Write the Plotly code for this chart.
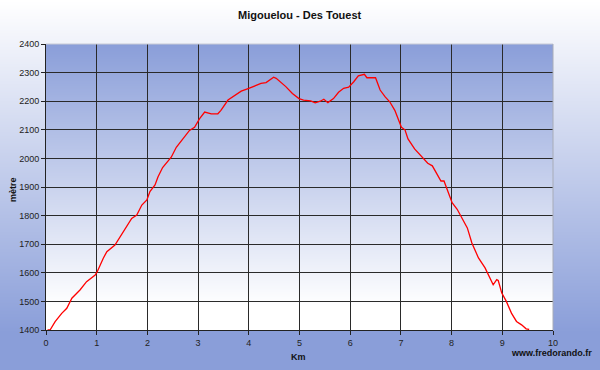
import base64, struct, zlib
import plotly.graph_objects as go

# ---------------- data ----------------
km = [0.03, 0.08, 0.18, 0.31, 0.41, 0.51, 0.67, 0.80, 0.97, 1.01, 1.13, 1.20, 1.36, 1.46,
      1.59, 1.69, 1.79, 1.89, 1.99, 2.05, 2.15, 2.21, 2.30, 2.47, 2.57, 2.70, 2.83, 2.93,
      3.03, 3.13, 3.26, 3.39, 3.45, 3.59, 3.72, 3.85, 4.00, 4.14, 4.24, 4.34, 4.44, 4.49,
      4.54, 4.64, 4.73, 4.86, 4.99, 5.08, 5.22, 5.31, 5.41, 5.48, 5.56, 5.67, 5.77, 5.87,
      5.97, 6.07, 6.16, 6.28, 6.33, 6.50, 6.59, 6.69, 6.78, 6.88, 6.95, 7.01, 7.08, 7.14,
      7.27, 7.46, 7.53, 7.62, 7.72, 7.79, 7.85, 7.92, 8.01, 8.11, 8.21, 8.31, 8.40, 8.53,
      8.66, 8.76, 8.82, 8.89, 8.92, 8.99, 9.08, 9.18, 9.28, 9.38, 9.47, 9.53]
metre = [1400, 1400, 1429, 1458, 1476, 1511, 1540, 1569, 1592, 1604, 1651, 1674, 1697, 1726,
         1761, 1790, 1802, 1837, 1855, 1884, 1907, 1936, 1968, 2004, 2039, 2068, 2098, 2109,
         2139, 2162, 2156, 2156, 2168, 2204, 2219, 2235, 2245, 2256, 2262, 2265, 2278, 2284,
         2280, 2266, 2251, 2227, 2209, 2204, 2201, 2194, 2200, 2207, 2195, 2209, 2231, 2245,
         2249, 2268, 2289, 2294, 2282, 2282, 2239, 2215, 2198, 2168, 2139, 2109, 2100, 2068,
         2033, 1997, 1983, 1974, 1944, 1921, 1921, 1886, 1845, 1822, 1792, 1757, 1704, 1652,
         1617, 1581, 1558, 1576, 1573, 1529, 1500, 1459, 1430, 1418, 1404, 1402]
x_ticks = [0, 1, 2, 3, 4, 5, 6, 7, 8, 9, 10]
y_ticks = [1400, 1500, 1600, 1700, 1800, 1900, 2000, 2100, 2200, 2300, 2400]

TITLE = "Migouelou - Des Touest"
X_TITLE = "Km"
Y_TITLE = "mètre"
CREDIT = "www.fredorando.fr"

# ---------------- gradient images ----------------
def gradient_png(top, bottom, h, start=0.0, end=1.0, w=4):
    raw = b""
    for i in range(h):
        t = i / (h - 1)
        f = 0.0 if t <= start else (1.0 if t >= end else (t - start) / (end - start))
        px = bytes(int(round(top[k] + (bottom[k] - top[k]) * f)) for k in range(3))
        raw += b"\x00" + px * w
    def chunk(tag, data):
        c = struct.pack(">I", len(data)) + tag + data
        return c + struct.pack(">I", zlib.crc32(tag + data) & 0xffffffff)
    png = b"\x89PNG\r\n\x1a\n"
    png += chunk(b"IHDR", struct.pack(">IIBBBBB", w, h, 8, 2, 0, 0, 0))
    png += chunk(b"IDAT", zlib.compress(raw, 9))
    png += chunk(b"IEND", b"")
    return "data:image/png;base64," + base64.b64encode(png).decode()

BLUE = (138, 158, 217)
WHITE = (255, 255, 255)
outer_img = gradient_png(WHITE, BLUE, 370, 0.0, 0.9)
inner_img = gradient_png(BLUE, WHITE, 286, 0.0, 0.92)

W, H = 600, 370
L, R, T, B = 46, 47, 44, 40
pw, ph = W - L - R, H - T - B

FONT = "Liberation Sans, Arial, sans-serif"

fig = go.Figure()
fig.add_trace(go.Scatter(x=km, y=metre, mode="lines",
                         line=dict(color="#FF0000", width=1.3),
                         hoverinfo="skip", showlegend=False))

fig.update_layout(
    width=W, height=H,
    margin=dict(l=L, r=R, t=T, b=B, pad=0),
    paper_bgcolor="white",
    plot_bgcolor="rgba(0,0,0,0)",
    font=dict(family=FONT, size=9, color="#222"),
    images=[
        dict(source=outer_img, xref="paper", yref="paper",
             x=-L / pw, y=1 + T / ph, sizex=W / pw, sizey=H / ph,
             xanchor="left", yanchor="top", sizing="stretch", layer="below"),
        dict(source=inner_img, xref="paper", yref="paper",
             x=0, y=1, sizex=1, sizey=1,
             xanchor="left", yanchor="top", sizing="stretch", layer="below"),
    ],
    xaxis=dict(range=[0, 10], tickvals=x_ticks, ticktext=[str(v) for v in x_ticks],
               showgrid=True, gridcolor="#2a2a2a", gridwidth=1,
               showline=True, linecolor="#222", linewidth=1,
               ticks="outside", ticklen=4, tickcolor="#222",
               zeroline=False, tickfont=dict(size=9, color="#222")),
    yaxis=dict(range=[1400, 2400], tickvals=y_ticks, ticktext=[str(v) for v in y_ticks],
               showgrid=True, gridcolor="#2a2a2a", gridwidth=1,
               showline=True, linecolor="#222", linewidth=1,
               ticks="outside", ticklen=4, tickcolor="#222",
               zeroline=False, tickfont=dict(size=9, color="#222")),
    shapes=[
        dict(type="line", xref="paper", yref="paper", x0=0, x1=1, y0=1, y1=1,
             line=dict(color="#c8cbd6", width=1), layer="above"),
        dict(type="line", xref="paper", yref="paper", x0=1, x1=1, y0=0, y1=1,
             line=dict(color="#a8acb8", width=1), layer="above"),
    ],
    annotations=[
        dict(text="<b>" + TITLE + "</b>", xref="paper", yref="paper",
             x=(300 - L) / pw, y=1 + (T - 15) / ph, showarrow=False,
             xanchor="center", yanchor="middle", font=dict(size=11, color="#111")),
        dict(text="<b>" + X_TITLE + "</b>", xref="paper", yref="paper",
             x=(298 - L) / pw, y=-(357 - T - ph) / ph, showarrow=False,
             xanchor="center", yanchor="middle", font=dict(size=9, color="#111")),
        dict(text="<b>" + Y_TITLE + "</b>", xref="paper", yref="paper",
             x=(13 - L) / pw, y=1 - (190 - T) / ph, showarrow=False, textangle=-90,
             xanchor="center", yanchor="middle", font=dict(size=9, color="#111")),
        dict(text="<b>" + CREDIT + "</b>", xref="paper", yref="paper",
             x=(594 - L) / pw, y=-(353 - T - ph) / ph, showarrow=False,
             xanchor="right", yanchor="middle", font=dict(size=9, color="#111")),
    ],
)

fig.write_html("out.html",
               config={"displayModeBar": False, "staticPlot": True},
               post_script="document.body.style.margin='0';document.body.style.overflow='hidden';")
